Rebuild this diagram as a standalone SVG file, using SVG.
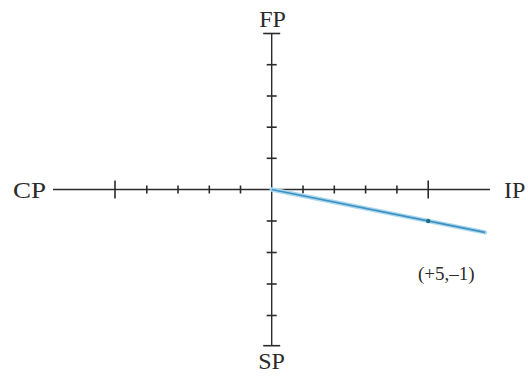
<svg xmlns="http://www.w3.org/2000/svg" width="528" height="377" viewBox="0 0 528 377">
<style>
.ax{stroke:#2b2b2b;stroke-width:1.4;fill:none}
.tk{stroke:#2b2b2b;stroke-width:1.6;fill:none}
.lb{font-family:"Liberation Serif",serif;font-size:24px;fill:#2b2b2b}
.nt{font-family:"Liberation Serif",serif;font-size:19px;fill:#2b2b2b}
</style>
<rect width="528" height="377" fill="#ffffff"/>
<g id="connectors">
<line class="ax" x1="53" y1="189.5" x2="490" y2="189.5"/>
<line class="ax" x1="271.7" y1="33.5" x2="271.7" y2="345.7"/>
<g class="tk">
<line x1="115" y1="180.5" x2="115" y2="198.5"/>
<line x1="146.8" y1="185.5" x2="146.8" y2="193.5"/>
<line x1="178" y1="185.5" x2="178" y2="193.5"/>
<line x1="209.3" y1="185.5" x2="209.3" y2="193.5"/>
<line x1="240.5" y1="185.5" x2="240.5" y2="193.5"/>
<line x1="303" y1="185.5" x2="303" y2="193.5"/>
<line x1="334.3" y1="185.5" x2="334.3" y2="193.5"/>
<line x1="365.6" y1="185.5" x2="365.6" y2="193.5"/>
<line x1="396.9" y1="185.5" x2="396.9" y2="193.5"/>
<line x1="428.2" y1="180.5" x2="428.2" y2="198.5"/>
<line x1="263.2" y1="33.5" x2="280.2" y2="33.5"/>
<line x1="266.7" y1="64.7" x2="276.7" y2="64.7"/>
<line x1="266.7" y1="96" x2="276.7" y2="96"/>
<line x1="266.7" y1="127.2" x2="276.7" y2="127.2"/>
<line x1="266.7" y1="158.3" x2="276.7" y2="158.3"/>
<line x1="266.7" y1="221" x2="276.7" y2="221"/>
<line x1="266.7" y1="252.5" x2="276.7" y2="252.5"/>
<line x1="266.7" y1="284" x2="276.7" y2="284"/>
<line x1="266.7" y1="315.5" x2="276.7" y2="315.5"/>
<line x1="263.2" y1="345.7" x2="280.2" y2="345.7"/>
</g>
<line x1="271.7" y1="189.5" x2="485" y2="232.4" stroke="#a9d9ef" stroke-width="4.5" stroke-linecap="round"/>
<line x1="271.7" y1="189.5" x2="485" y2="232.4" stroke="#3f8fbf" stroke-width="1.6"/>
<circle cx="428.2" cy="221" r="2.2" fill="#1f6f86"/>
</g>
<g id="cp"><text class="lb" x="13" y="198" textLength="33" lengthAdjust="spacingAndGlyphs">CP</text></g>
<g id="ip"><text class="lb" x="504" y="198">IP</text></g>
<g id="fp"><text class="lb" x="272.5" y="27" text-anchor="middle">FP</text></g>
<g id="sp"><text class="lb" x="271.5" y="369" text-anchor="middle">SP</text></g>
<g id="point"><text class="nt" x="418" y="280">(+5,–1)</text></g>
</svg>
